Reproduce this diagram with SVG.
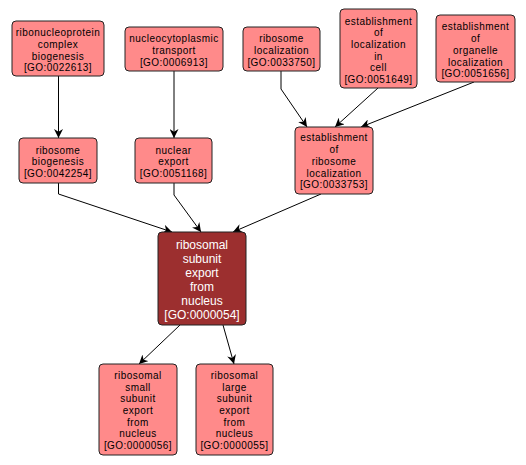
<svg xmlns="http://www.w3.org/2000/svg" width="526" height="465" viewBox="0 0 526 465">
<style>
.n rect{fill:#FF8A8A;stroke:#222;stroke-width:1}
.n text{font-family:"Liberation Sans",Arial,sans-serif;font-size:10px;letter-spacing:0.45px;text-anchor:middle;fill:#000}
.m rect{fill:#9C2F2F;stroke:#222;stroke-width:1}
.m text{font-family:"Liberation Sans",Arial,sans-serif;font-size:12px;text-anchor:middle;fill:#fff}
.e path{fill:none;stroke:#000;stroke-width:1;marker-end:url(#a)}
</style>
<defs>
<marker id="a" viewBox="0 0 10 10" refX="10" refY="5" markerWidth="9" markerHeight="9" markerUnits="userSpaceOnUse" orient="auto">
<path d="M0,0 L10,5 L0,10 L3,5 z" fill="#000"/>
</marker>
</defs>
<rect width="526" height="465" fill="#fff"/>
<g class="e" id="edges">
<path d="M58.5,76 V138"/>
<path d="M174,71 V138"/>
<path d="M281,71 V89 L307,127"/>
<path d="M378,88 L335,127"/>
<path d="M474,82 L361,127"/>
<path d="M58.5,183 V194 L172,232"/>
<path d="M174,183 V195 L201,232"/>
<path d="M321,194 L233,232"/>
<path d="M180,325 L139,364"/>
<path d="M223,325 L234,364"/>
</g>
<g class="n" id="GO0022613"><rect x="12" y="21" width="92" height="55" rx="4"/>
<text x="58" y="36">ribonucleoprotein</text><text x="58" y="48">complex</text><text x="58" y="60">biogenesis</text><text x="58" y="71">[GO:0022613]</text></g>
<g class="n" id="GO0006913"><rect x="125" y="27" width="98" height="44" rx="4"/>
<text x="174" y="42">nucleocytoplasmic</text><text x="174" y="54">transport</text><text x="174" y="66">[GO:0006913]</text></g>
<g class="n" id="GO0033750"><rect x="243" y="27" width="77" height="44" rx="4"/>
<text x="281.5" y="42">ribosome</text><text x="281.5" y="54">localization</text><text x="281.5" y="66">[GO:0033750]</text></g>
<g class="n" id="GO0051649"><rect x="340" y="9" width="77" height="79" rx="4"/>
<text x="378.5" y="25">establishment</text><text x="378.5" y="36">of</text><text x="378.5" y="48">localization</text><text x="378.5" y="60">in</text><text x="378.5" y="71">cell</text><text x="378.5" y="83">[GO:0051649]</text></g>
<g class="n" id="GO0051656"><rect x="436" y="15" width="79" height="67" rx="4"/>
<text x="475.5" y="30">establishment</text><text x="475.5" y="42">of</text><text x="475.5" y="54">organelle</text><text x="475.5" y="66">localization</text><text x="475.5" y="77">[GO:0051656]</text></g>
<g class="n" id="GO0033753"><rect x="295" y="127" width="78" height="67" rx="4"/>
<text x="334" y="141">establishment</text><text x="334" y="153">of</text><text x="334" y="165">ribosome</text><text x="334" y="177">localization</text><text x="334" y="188">[GO:0033753]</text></g>
<g class="n" id="GO0042254"><rect x="19" y="138" width="78" height="45" rx="4"/>
<text x="58" y="154">ribosome</text><text x="58" y="165">biogenesis</text><text x="58" y="177">[GO:0042254]</text></g>
<g class="n" id="GO0051168"><rect x="135" y="138" width="77" height="45" rx="4"/>
<text x="173.5" y="154">nuclear</text><text x="173.5" y="165">export</text><text x="173.5" y="177">[GO:0051168]</text></g>
<g class="m" id="GO0000054"><rect x="158" y="232" width="88" height="93" rx="4"/>
<text x="202" y="249">ribosomal</text><text x="202" y="263">subunit</text><text x="202" y="277">export</text><text x="202" y="291">from</text><text x="202" y="305">nucleus</text><text x="202" y="319">[GO:0000054]</text></g>
<g class="n" id="GO0000056"><rect x="99" y="364" width="78" height="91" rx="4"/>
<text x="138" y="379">ribosomal</text><text x="138" y="391">small</text><text x="138" y="402">subunit</text><text x="138" y="414">export</text><text x="138" y="426">from</text><text x="138" y="437">nucleus</text><text x="138" y="449">[GO:0000056]</text></g>
<g class="n" id="GO0000055"><rect x="196" y="364" width="77" height="91" rx="4"/>
<text x="234.5" y="379">ribosomal</text><text x="234.5" y="391">large</text><text x="234.5" y="402">subunit</text><text x="234.5" y="414">export</text><text x="234.5" y="426">from</text><text x="234.5" y="437">nucleus</text><text x="234.5" y="449">[GO:0000055]</text></g>
</svg>
